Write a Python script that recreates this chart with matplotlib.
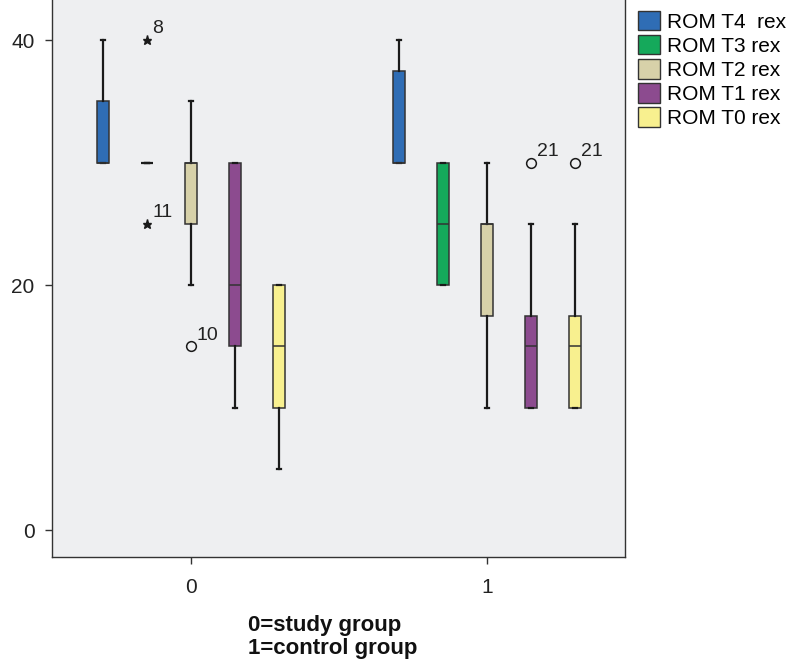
import numpy as np
import matplotlib.pyplot as plt
from matplotlib.patches import Patch

plt.rcParams['font.family'] = ['Liberation Sans', 'DejaVu Sans']

# data
groups = [0, 1]
series = ['ROM T4  rex', 'ROM T3 rex', 'ROM T2 rex', 'ROM T1 rex', 'ROM T0 rex']
colors = ['#2f6db5', '#15a95b', '#d7d1a9', '#8c4b8f', '#f8f08f']

# per group, per series: whislo, q1, median, q3, whishi
g0_whislo = [30, 30, 20, 10, 5]
g0_q1 = [30, 30, 25, 15, 10]
g0_med = [30, 30, 30, 20, 15]
g0_q3 = [35, 30, 30, 30, 20]
g0_whishi = [40, 30, 35, 30, 20]

g1_whislo = [30, 20, 10, 10, 10]
g1_q1 = [30, 20, 17.5, 10, 10]
g1_med = [30, 25, 25, 15, 15]
g1_q3 = [37.5, 30, 25, 17.5, 17.5]
g1_whishi = [40, 30, 30, 25, 25]

# outliers: (group, series index, value, case label, marker)
out_group = [0, 0, 0, 1, 1]
out_series = [1, 1, 2, 3, 4]
out_value = [40, 25, 15, 30, 30]
out_label = ['8', '11', '10', '21', '21']
out_marker = ['*', '*', 'o', 'o', 'o']

fig = plt.figure(figsize=(7.9, 6.59), dpi=100)
ax = fig.add_axes([52/790, 102/659, 573/790, 557/659])
ax.set_facecolor('#eeeff1')

step = 0.1486
offsets = (np.arange(5) - 2) * step
width = 0.042

stats = []
positions = []
for g, (lo, q1, md, q3, hi) in zip(groups, [
        (g0_whislo, g0_q1, g0_med, g0_q3, g0_whishi),
        (g1_whislo, g1_q1, g1_med, g1_q3, g1_whishi)]):
    for i in range(5):
        stats.append(dict(whislo=lo[i], q1=q1[i], med=md[i], q3=q3[i],
                          whishi=hi[i], fliers=[]))
        positions.append(g + offsets[i])

bp = ax.bxp(stats, positions=positions, widths=width, patch_artist=True,
            showfliers=False, capwidths=0.012,
            boxprops=dict(edgecolor='#333333', linewidth=1.1),
            medianprops=dict(color='#333333', linewidth=1.1),
            whiskerprops=dict(color='#1a1a1a', linewidth=1.6),
            capprops=dict(color='#1a1a1a', linewidth=1.6))
for k, box in enumerate(bp['boxes']):
    box.set_facecolor(colors[k % 5])
# collapsed box drawn as a black dash
bp['medians'][1].set_color('#1a1a1a')
bp['medians'][1].set_linewidth(1.6)
bp['boxes'][1].set_visible(False)

for g, s, v, lab, m in zip(out_group, out_series, out_value, out_label, out_marker):
    x = g + offsets[s]
    if m == '*':
        ax.plot(x, v, marker='*', color='#1a1a1a', markersize=6.5, linestyle='none')
    else:
        ax.plot(x, v, marker='o', markerfacecolor='none', markeredgecolor='#1a1a1a',
                markersize=7, markeredgewidth=1.1, linestyle='none')
    ax.annotate(lab, (x, v), xytext=(4, 2), textcoords='offset points',
                fontsize=14, color='#222222', va='bottom', ha='left')

ax.set_xlim(-0.4696, 1.466)
ax.set_ylim(-2.2, 43.27)
ax.set_yticks([0, 20, 40])
ax.set_xticks(groups)
ax.set_xticklabels(['0', '1'])
ax.tick_params(axis='both', direction='out', length=5, width=1, labelsize=15,
               colors='#333333', labelcolor='#222222')
ax.tick_params(axis='y', pad=7.5)
ax.tick_params(axis='x', pad=10)
for sp in ['left', 'bottom', 'right']:
    ax.spines[sp].set_color('#333333')
    ax.spines[sp].set_linewidth(1.0)
ax.spines['top'].set_visible(False)

fig.text(248/790, 1 - 637/659, '0=study group\n1=control group',
         fontweight='bold', fontsize=16, ha='left', va='center',
         linespacing=1.1, color='#111111')

handles = [Patch(facecolor=c, edgecolor='#333333', linewidth=1.0) for c in colors]
fig.legend(handles, series, loc='upper left', bbox_to_anchor=(638/790, 1 - 11/659),
           frameon=False, fontsize=15, handlelength=1.05, handleheight=1.05,
           handletextpad=0.33, labelspacing=0.16, borderpad=0, borderaxespad=0)

fig.savefig('out.png', dpi=100)
